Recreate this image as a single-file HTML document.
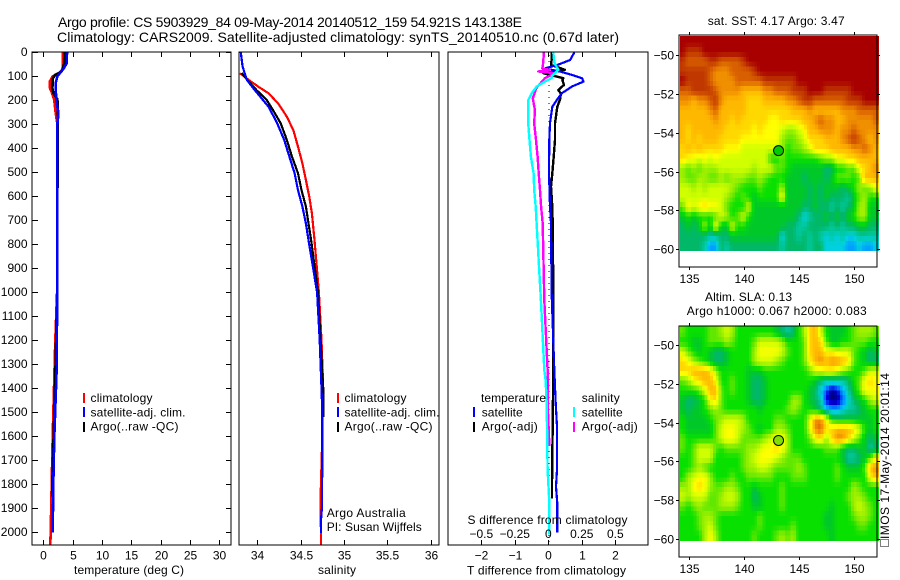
<!DOCTYPE html>
<html lang="en">
<head>
<meta charset="utf-8">
<title>Argo profile chart</title>
<style>
  html, body { margin: 0; padding: 0; background: #fff; }
  svg { display: block; }
  text { font-family: "Liberation Sans", sans-serif; font-size: 12px; fill: #000; }
  .title { font-size: 14px; }
  .map-title { font-size: 12px; }
</style>
</head>
<body>
<svg id="chart" xmlns="http://www.w3.org/2000/svg" width="900" height="580" viewBox="0 0 900 580">
  <rect x="0" y="0" width="900" height="580" fill="#fff"/>

  <text class="title" x="58" y="27" textLength="464" lengthAdjust="spacing">Argo profile: CS 5903929_84 09-May-2014 20140512_159 54.921S 143.138E</text>
  <text class="title" x="57" y="42" textLength="562" lengthAdjust="spacing">Climatology: CARS2009. Satellite-adjusted climatology: synTS_20140510.nc (0.67d later)</text>

  <g id="heatmaps"></g>
  <g id="series"></g>
  <g id="axes"></g>

  <text x="74" y="574" textLength="110" lengthAdjust="spacing">temperature (deg C)</text>
  <text x="318" y="574" textLength="38" lengthAdjust="spacing">salinity</text>
  <text x="467" y="574.5" textLength="159" lengthAdjust="spacing">T difference from climatology</text>
  <text x="467.5" y="524" textLength="160" lengthAdjust="spacing">S difference from climatology</text>

  <g>
    <rect x="83" y="393" width="2" height="10" fill="#f00"/>
    <text x="90.5" y="402" textLength="62" lengthAdjust="spacing">climatology</text>
    <rect x="83" y="407" width="2" height="10" fill="#00f"/>
    <text x="90.5" y="416.5" textLength="95" lengthAdjust="spacing">satellite-adj. clim.</text>
    <rect x="83" y="422" width="2" height="10" fill="#000"/>
    <text x="90.5" y="430.5" textLength="88" lengthAdjust="spacing">Argo(..raw -QC)</text>
  </g>
  <g>
    <rect x="337" y="393" width="2" height="10" fill="#f00"/>
    <text x="344.5" y="402" textLength="62" lengthAdjust="spacing">climatology</text>
    <rect x="337" y="407" width="2" height="10" fill="#00f"/>
    <text x="344.5" y="416.5" textLength="95" lengthAdjust="spacing">satellite-adj. clim.</text>
    <rect x="337" y="422" width="2" height="10" fill="#000"/>
    <text x="344.5" y="430.5" textLength="88" lengthAdjust="spacing">Argo(..raw -QC)</text>
    <text x="326.7" y="517" textLength="79" lengthAdjust="spacing">Argo Australia</text>
    <text x="326.7" y="531" textLength="95" lengthAdjust="spacing">PI: Susan Wijffels</text>
  </g>
  <g>
    <text x="481" y="402" textLength="65" lengthAdjust="spacing">temperature</text>
    <rect x="473" y="407" width="2" height="10" fill="#00f"/>
    <text x="481.7" y="416.5" textLength="41" lengthAdjust="spacing">satellite</text>
    <rect x="473" y="422" width="2" height="10" fill="#000"/>
    <text x="481.7" y="430.5" textLength="56" lengthAdjust="spacing">Argo(-adj)</text>
    <text x="581.7" y="402" textLength="38" lengthAdjust="spacing">salinity</text>
    <rect x="573" y="407" width="2" height="10" fill="#0ff"/>
    <text x="581.7" y="416.5" textLength="41" lengthAdjust="spacing">satellite</text>
    <rect x="573" y="422" width="2" height="10" fill="#f0f"/>
    <text x="581.7" y="430.5" textLength="56" lengthAdjust="spacing">Argo(-adj)</text>
  </g>

  <text class="map-title" x="707.7" y="25" textLength="137" lengthAdjust="spacing">sat. SST: 4.17 Argo: 3.47</text>
  <text class="map-title" x="705" y="301" textLength="87" lengthAdjust="spacing">Altim. SLA: 0.13</text>
  <text class="map-title" x="686.7" y="315" textLength="180" lengthAdjust="spacing">Argo h1000: 0.067 h2000: 0.083</text>

  <rect x="880.5" y="539.5" width="8" height="7" fill="none" stroke="#000" stroke-width="1" stroke-dasharray="1 1"/>
  <text transform="translate(889,539) rotate(-90)" textLength="166" lengthAdjust="spacing">IMOS 17-May-2014 20:01:14</text>
</svg>

<script>
// ---------- tick labels ----------
var depthTicks = [0,100,200,300,400,500,600,700,800,900,1000,1100,1200,1300,1400,1500,1600,1700,1800,1900,2000];
var tempTicks = [0,5,10,15,20,25,30];
var salTicks = [34,34.5,35,35.5,36];
var tDiffTicks = [-2,-1,0,1,2];
var sDiffTicks = [-0.5,-0.25,0,0.25,0.5];
var lonTicks = [135,140,145,150];
var latTicks = [-50,-52,-54,-56,-58,-60];

// ---------- float position ----------
var floatLon = [143.138];
var floatLat = [-54.921];

// ---------- temperature panel ----------
var tempClimDepth = [0,70,85,100,120,150,170,200,250,300,600,1000,1200,1400,1600,1800,2000,2050];
var tempClimValue = [3.36,3.32,2.8,1.6,1.14,1.14,1.5,1.87,2.1,2.4,2.4,2.35,2.05,1.82,1.6,1.43,1.26,1.2];
var tempArgoDepth = [0,50,80,95,110,150,170,195,250,600,1000,1300,1500,1800,1850];
var tempArgoValue = [3.7,3.55,3.1,2,1.6,1.55,1.7,2.4,2.5,2.4,2.35,2.1,1.87,1.53,1.5];
var tempSatDepth = [0,46,70,100,130,200,250,300,600,1000,1300,1400,1600,1800,2000];
var tempSatValue = [4.04,4,3.4,2.4,2.1,2.2,2.55,2.4,2.4,2.35,2.3,2.16,1.87,1.7,1.6];

// ---------- salinity panel ----------
var salClimDepth = [87,115,143,171,213,268,324,393,463,532,602,671,782,1000,1200,1400,1600,1850,2050];
var salClimValue = [33.8,33.9,34.01,34.13,34.24,34.34,34.415,34.47,34.52,34.56,34.6,34.63,34.66,34.71,34.74,34.76,34.75,34.73,34.735];
var salArgoDepth = [87,115,157,199,240,296,365,435,504,574,643,713,782,1000,1200,1400,1520];
var salArgoValue = [33.82,33.885,33.99,34.11,34.18,34.27,34.34,34.4,34.47,34.51,34.56,34.59,34.62,34.7,34.73,34.76,34.76];
var salSatDepth = [0,60,115,157,227,296,365,435,504,574,643,713,782,1000,1200,1400,1500,1700,1900,1950,2003];
var salSatValue = [33.81,33.83,33.88,33.97,34.13,34.23,34.31,34.37,34.43,34.47,34.52,34.56,34.59,34.69,34.72,34.74,34.75,34.75,34.745,34.735,34.735];

// ---------- difference panel ----------
var diffTArgoDepth = [0,32,53,73,87,108,115,136,157,171,192,227,296,365,435,504,560,643,713,1000,1324,1800,1860];
var diffTArgoValue = [0.1,0.1,0.08,0.5,-0.15,0.45,0.42,0.47,0.3,0.37,0.36,0.27,0.2,0.2,0.16,0.12,0.08,0.12,0.13,0.15,0.15,0.11,0.11];
var diffTSatDepth = [0,32,53,67,80,94,108,122,143,171,199,227,296,365,504,643,713,1000,1324,1462,1560,1740,1810,1880,2000];
var diffTSatValue = [0.78,0.65,0.27,-0.1,0.35,0.7,1.01,1.05,0.7,0.4,0.25,0.12,0.05,0.03,0.02,0.05,0.08,0.1,0.18,0.22,0.26,0.26,0.23,0.27,0.27];
var diffSArgoDepth = [0,53,67,73,80,87,108,150,192,240,296,365,435,504,574,643,713,1032,1324,1462,1640];
var diffSArgoValue = [-0.032,-0.04,-0.045,0.012,-0.075,0.05,-0.025,-0.09,-0.116,-0.1,-0.105,-0.092,-0.08,-0.072,-0.062,-0.054,-0.042,-0.03,-0.005,-0.005,0.008];
var diffSSatDepth = [0,42,73,87,101,108,122,143,171,199,296,365,435,504,574,643,713,1032,1324,1366,1462,1740,1880,2010];
var diffSSatValue = [0.037,0.045,0.075,0.05,0.025,0.025,-0.025,-0.087,-0.124,-0.15,-0.15,-0.14,-0.13,-0.11,-0.105,-0.094,-0.087,-0.055,-0.03,-0.02,-0.012,-0.005,0.008,0.008];

// ---------- SST map: colour level per half-degree cell, north to south ----------
var sstCells = [
[18,18,18,18,18,18,18,18,18,18,18,18,18,18,18,18,18,18,18,18,18,18,18,18,18,18,18,18,18,18,18,18,18,18,18,18],
[18,17,17,17,18,18,18,18,18,18,18,18,18,18,18,18,18,18,18,18,18,18,18,18,18,18,18,18,18,18,18,18,18,18,18,18],
[17,16,16,16,16,17,17,16,16,16,16,17,18,18,18,18,18,18,18,18,18,18,18,18,18,18,18,18,18,18,18,18,18,18,18,18],
[17,17,17,17,17,16,15,15,15,16,16,16,16,17,18,18,18,18,18,18,18,18,18,18,18,18,18,18,18,18,18,18,18,18,18,18],
[18,17,17,17,17,16,15,15,15,15,16,16,16,16,16,17,17,17,17,17,17,18,18,18,18,18,18,18,18,18,18,18,18,18,18,18],
[16,16,17,17,17,17,16,15,15,15,15,14,14,14,14,15,15,16,16,16,17,17,17,18,18,18,17,17,17,17,17,18,18,18,18,18],
[15,15,14,15,15,16,17,15,14,14,14,14,13,13,13,14,14,14,14,15,15,16,17,17,16,16,16,16,16,16,17,17,17,18,18,18],
[14,14,14,14,14,15,16,14,14,14,14,14,13,13,13,13,13,13,13,13,14,14,14,15,14,14,14,14,14,15,15,15,16,16,16,16],
[14,14,14,14,14,14,15,14,14,13,14,13,13,13,13,13,12,12,13,13,13,13,14,14,15,16,15,15,14,14,15,15,15,15,15,16],
[14,13,14,14,14,14,14,14,13,13,13,13,13,12,13,12,12,12,11,10,10,11,12,14,14,15,15,15,14,15,15,16,15,15,15,15],
[14,13,14,13,14,14,14,13,13,13,13,12,12,12,12,12,12,12,10,9,9,10,11,13,13,13,14,14,14,15,16,17,16,15,14,15],
[13,14,13,14,13,13,13,13,12,12,12,11,11,11,11,11,11,11,10,8,9,9,10,11,13,13,13,14,14,14,14,15,15,16,15,14],
[13,12,12,11,12,11,12,11,11,11,11,11,11,11,11,11,8,8,9,8,8,8,8,8,8,9,10,10,12,12,13,13,14,14,14,14],
[10,9,10,9,10,10,10,11,11,11,11,11,11,10,11,11,11,9,9,8,7,7,7,7,7,7,6,6,8,8,9,9,12,13,14,15],
[10,9,9,10,10,9,9,10,9,10,10,10,9,9,10,9,8,8,8,7,7,7,6,7,7,7,6,7,9,9,9,8,9,14,14,14],
[11,11,10,11,10,11,11,11,11,10,9,8,8,8,9,8,8,8,10,7,7,7,7,6,7,6,7,7,7,6,7,8,10,9,10,12],
[11,11,11,11,11,11,11,11,10,9,8,9,8,7,8,8,8,8,12,7,7,7,7,6,7,6,7,6,6,6,5,7,9,10,8,8],
[9,12,11,12,13,12,12,11,9,8,8,8,11,7,7,7,7,7,7,7,7,7,6,6,7,6,6,5,6,5,6,7,10,10,7,7],
[7,8,7,8,8,8,9,11,10,8,9,11,8,7,7,7,7,7,7,7,7,6,4,5,6,6,7,6,7,6,7,8,10,10,7,7],
[6,7,6,7,10,7,12,7,7,11,8,8,7,7,7,7,7,7,7,6,6,5,5,6,6,6,6,5,6,5,6,6,7,7,6,6],
[6,6,6,6,6,5,5,6,6,7,7,7,7,7,7,7,7,7,4,6,6,5,6,5,6,5,4,5,4,5,4,4,5,5,5,5],
[6,6,6,6,5,3,3,6,5,6,6,6,6,6,6,6,6,6,5,6,6,6,6,5,6,6,4,4,4,4,3,3,4,3,3,4]
];

// ---------- SLA map: colour level per half-degree cell, north to south ----------
var slaCells = [
[9,8,8,8,8,9,9,10,11,10,8,8,8,8,8,8,8,7,6,5,6,8,10,13,14,11,8,7,7,7,8,9,10,10,10,9],
[8,8,7,7,8,9,9,9,10,9,8,8,8,9,11,11,11,11,10,8,8,8,9,13,14,13,9,7,7,8,8,9,9,9,8,8],
[11,9,8,7,8,7,6,6,7,8,8,8,8,10,12,12,12,12,11,9,8,8,9,13,14,14,12,12,11,11,11,9,8,7,6,7],
[13,12,10,9,8,7,6,6,7,8,8,8,8,10,11,11,11,10,9,8,8,8,9,12,14,15,14,15,15,14,13,9,8,7,6,6],
[13,13,14,14,14,13,10,8,8,8,8,8,7,7,7,8,8,8,8,8,8,8,8,9,11,11,12,12,11,10,9,8,8,9,11,11],
[9,10,12,13,14,14,12,8,8,9,8,8,7,6,6,7,8,8,8,8,8,8,8,8,7,6,5,5,5,5,6,8,9,12,13,12],
[8,8,8,9,11,14,14,9,8,9,8,8,7,6,6,7,8,8,8,8,8,8,8,7,6,4,2,0,1,3,5,7,9,12,12,12],
[7,6,6,7,8,12,13,9,8,8,8,8,7,6,6,7,8,8,8,8,10,10,8,7,6,5,1,0,0,2,4,6,7,8,10,11],
[7,6,7,7,8,9,10,9,8,8,8,8,8,8,7,8,8,8,8,9,10,9,8,8,7,6,4,3,3,4,5,5,6,7,8,8],
[8,7,7,7,7,8,9,10,11,11,11,10,8,8,8,8,8,9,9,8,8,8,8,11,15,15,12,8,7,7,7,7,7,7,7,8],
[8,7,7,7,7,7,9,11,12,12,11,10,9,8,7,8,8,10,10,9,8,8,8,11,15,16,13,13,14,14,14,13,11,8,7,8],
[9,8,8,8,8,8,9,11,12,12,11,9,9,9,9,10,11,12,12,10,8,8,8,9,12,13,10,13,15,15,13,11,9,7,6,7],
[9,8,9,11,11,11,9,8,9,9,9,9,10,10,11,12,12,13,12,10,8,8,8,8,8,8,9,9,9,7,6,6,7,7,5,6],
[8,8,9,11,11,11,8,8,8,8,8,9,10,11,12,12,12,11,10,9,9,9,8,8,8,8,8,8,8,7,5,5,6,7,9,12],
[8,8,9,10,9,8,8,8,8,8,8,9,10,10,11,11,10,9,9,9,9,10,9,8,8,8,8,8,9,8,7,7,7,9,14,15],
[8,10,11,12,12,10,8,8,8,9,8,8,9,9,9,9,9,8,8,8,9,9,9,8,8,8,8,8,9,8,8,8,8,8,12,14],
[10,10,12,13,12,10,9,9,10,10,9,8,8,7,8,8,8,8,9,8,8,8,8,8,8,8,8,8,8,8,8,10,9,8,8,8],
[11,10,11,11,11,9,9,10,11,11,10,8,8,6,7,8,8,8,9,8,8,8,8,8,8,8,8,8,8,8,9,10,10,9,8,8],
[9,8,9,10,9,9,9,10,10,10,9,8,8,7,7,8,8,8,9,8,8,8,8,8,8,8,8,7,8,8,8,10,11,10,9,8],
[8,8,8,9,10,10,9,8,8,8,8,8,8,8,9,8,8,8,8,8,8,8,8,8,8,8,7,7,8,8,8,9,10,10,9,8],
[8,8,8,9,10,11,9,8,8,8,8,8,8,8,9,8,8,8,8,8,9,8,8,8,8,8,7,7,8,8,8,8,9,9,8,8],
[8,8,8,8,10,12,10,8,8,8,8,8,8,9,8,8,8,9,10,9,10,8,8,8,8,8,8,7,8,8,8,8,8,8,8,8]
];

// ---------- colour scale ----------
var levelColours = ['#000080','#0000e0','#0060ff','#00a0ff','#00d0e0','#00c8a0','#00b868','#00c828','#08e000','#60e800','#a0f000','#d0ff00','#ffff00','#ffd800','#ffb800','#f09000','#d86000','#c03800','#a80000'];

function levelColour(v) {
  var lo = Math.max(0, Math.min(levelColours.length - 1, Math.floor(v)));
  var hi = Math.min(levelColours.length - 1, lo + 1);
  var f = Math.max(0, Math.min(1, v - lo));
  var a = parseInt(levelColours[lo].slice(1), 16);
  var b = parseInt(levelColours[hi].slice(1), 16);
  var mix = function (s) {
    return Math.round(((a >> s) & 255) * (1 - f) + ((b >> s) & 255) * f);
  };
  return 'rgb(' + mix(16) + ',' + mix(8) + ',' + mix(0) + ')';
}

// ---------- axis functions ----------
var SVGNS = 'http://www.w3.org/2000/svg';
function yDepth(d) { return 52.3 + d * 0.24; }
function xTemp(t) { return 43.3 + t * 5.87; }
function xSal(s) { return 257.3 + (s - 34) * 86.7; }
function xTDiff(t) { return 548.3 + t * 33.5; }
function xSDiff(s) { return 548.3 + s * 134; }
function xLon(lon) { return 688.7 + (lon - 135) * 11.04; }
function yLatSst(lat) { return 55.3 + (-50 - lat) * 19.37; }
function yLatSla(lat) { return 345.3 + (-50 - lat) * 19.34; }

function fmt(v) { return String(v).replace('-', '\u2212'); }

function make(tag, parent, attrs) {
  var el = document.createElementNS(SVGNS, tag);
  for (var k in attrs) { el.setAttribute(k, attrs[k]); }
  parent.appendChild(el);
  return el;
}

var axesGroup = document.getElementById('axes');
var seriesGroup = document.getElementById('series');
var heatGroup = document.getElementById('heatmaps');

function tickLine(x1, y1, x2, y2) {
  var el = make('line', axesGroup, { x1: x1, y1: y1, x2: x2, y2: y2, stroke: '#000', 'stroke-width': 1, 'shape-rendering': 'crispEdges' });
  
  
}

function tickText(x, y, anchor, value) {
  var el = make('text', axesGroup, { x: x, y: y, 'text-anchor': anchor });
  el.textContent = fmt(value);
  
  
}

function frame(x, y, w, h) {
  var el = make('rect', axesGroup, { x: x, y: y, width: w, height: h, fill: 'none', stroke: '#000', 'stroke-width': 1, 'shape-rendering': 'crispEdges' });
  
  
}

function drawSeries(depths, values, xFn, colour, width) {
  var pts = [];
  for (var i = 0; i < depths.length; i++) {
    pts.push(xFn(values[i]).toFixed(1) + ',' + yDepth(depths[i]).toFixed(1));
  }
  var el = make('polyline', seriesGroup, { points: pts.join(' '), fill: 'none', stroke: colour, 'stroke-width': width, 'stroke-linejoin': 'round', 'shape-rendering': 'crispEdges' });
  
  
}

// ---------- profile panels ----------
var PANEL_TOP = 52, PANEL_BOTTOM = 545;

function panelAxes(left, right, ticks, xFn, labelY) {
  frame(left, PANEL_TOP, right - left, PANEL_BOTTOM - PANEL_TOP);
  ticks.forEach(function (t) {
    var x = Math.round(xFn(t)) + 0.5;
    tickLine(x, PANEL_TOP, x, PANEL_TOP + 5);
    tickLine(x, PANEL_BOTTOM, x, PANEL_BOTTOM - 5);
    tickText(x, labelY, 'middle', t);
  });
}

panelAxes(32, 231, tempTicks, xTemp, 559.5);
panelAxes(239, 439, salTicks, xSal, 559.5);
panelAxes(448, 648, tDiffTicks, xTDiff, 559.5);

sDiffTicks.forEach(function (s) {
  tickText(xSDiff(s), 538, 'middle', s);
});

depthTicks.forEach(function (d) {
  var y = Math.round(yDepth(d)) + 0.5;
  tickLine(32, y, 38, y);
  tickLine(231, y, 226, y);
  tickText(27.5, y + 3.5, 'end', d);
});

drawSeries(tempClimDepth, tempClimValue, xTemp, '#f00', 2.6);
drawSeries(tempArgoDepth, tempArgoValue, xTemp, '#000', 2.6);
drawSeries(tempSatDepth, tempSatValue, xTemp, '#00f', 2.6);

drawSeries(salClimDepth, salClimValue, xSal, '#f00', 2.2);
drawSeries(salArgoDepth, salArgoValue, xSal, '#000', 2.2);
drawSeries(salSatDepth, salSatValue, xSal, '#00f', 2.2);

(function () {
  for (var y = PANEL_TOP + 3; y < PANEL_BOTTOM; y += 6) {
    var dot = make('rect', seriesGroup, { x: xTDiff(0), y: y, width: 1, height: 1, fill: '#000', 'shape-rendering': 'crispEdges' });
    
    
  }
})();

drawSeries(diffTArgoDepth, diffTArgoValue, xTDiff, '#000', 2.4);
drawSeries(diffTSatDepth, diffTSatValue, xTDiff, '#00f', 2.2);
drawSeries(diffSArgoDepth, diffSArgoValue, xSDiff, '#f0f', 2.4);
drawSeries(diffSSatDepth, diffSSatValue, xSDiff, '#0ff', 2.4);

// ---------- maps ----------
var LON_START = 134.2, CELL_DEG = 0.5;

function sampleCell(grid, r, c) {
  var rows = grid.length, cols = grid[0].length;
  r = Math.max(0, Math.min(rows - 1, r));
  c = Math.max(0, Math.min(cols - 1, c));
  var r0 = Math.floor(r), c0 = Math.floor(c);
  var r1 = Math.min(rows - 1, r0 + 1), c1 = Math.min(cols - 1, c0 + 1);
  var fr = r - r0, fc = c - c0;
  return (grid[r0][c0] * (1 - fc) + grid[r0][c1] * fc) * (1 - fr) + (grid[r1][c0] * (1 - fc) + grid[r1][c1] * fc) * fr;
}

function drawMap(grid, yLat, subdiv) {
  var rows = grid.length * subdiv, cols = grid[0].length * subdiv;
  var step = CELL_DEG / subdiv;
  for (var r = 0; r < rows; r++) {
    for (var c = 0; c < cols; c++) {
      var v = sampleCell(grid, (r + 0.5) / subdiv - 0.5, (c + 0.5) / subdiv - 0.5);
      var x0 = xLon(LON_START + c * step), x1 = xLon(LON_START + (c + 1) * step);
      var latTop = r === 0 ? -49 : -49.08 - r * step;
      var y0 = yLat(latTop), y1 = yLat(-49.08 - (r + 1) * step);
      var cell = make('rect', heatGroup, {
        x: x0.toFixed(2), y: y0.toFixed(2),
        width: (x1 - x0 + 0.6).toFixed(2), height: (y1 - y0 + 0.6).toFixed(2),
        fill: levelColour(v), 'shape-rendering': 'crispEdges'
      });
      
      
    }
  }
}

drawMap(sstCells, yLatSst, 2);
drawMap(slaCells, yLatSla, 2);

function mapAxes(top, bottom, yLat, labelY) {
  var left = 679, right = 877;
  frame(left, top, right - left, bottom - top);
  lonTicks.forEach(function (lon) {
    var x = Math.round(xLon(lon)) + 0.5;
    tickLine(x, top, x, top - 3);
    tickLine(x, bottom, x, bottom + 3);
    tickText(x, labelY, 'middle', lon);
  });
  latTicks.forEach(function (lat) {
    var y = Math.round(yLat(lat)) + 0.5;
    tickLine(left, y, left - 3, y);
    tickLine(right, y, right + 3, y);
    tickText(674, y + 4, 'end', lat);
  });
}

mapAxes(35, 267, yLatSst, 283);
mapAxes(326, 557, yLatSla, 573);

function drawFloat(yLat, fill) {
  var marker = make('circle', axesGroup, { cx: xLon(floatLon[0]), cy: yLat(floatLat[0]), r: 5, fill: fill, stroke: '#000', 'stroke-width': 1 });
  
  
}
drawFloat(yLatSst, '#00cc00');
drawFloat(yLatSla, '#80e000');
</script>
</body>
</html>
